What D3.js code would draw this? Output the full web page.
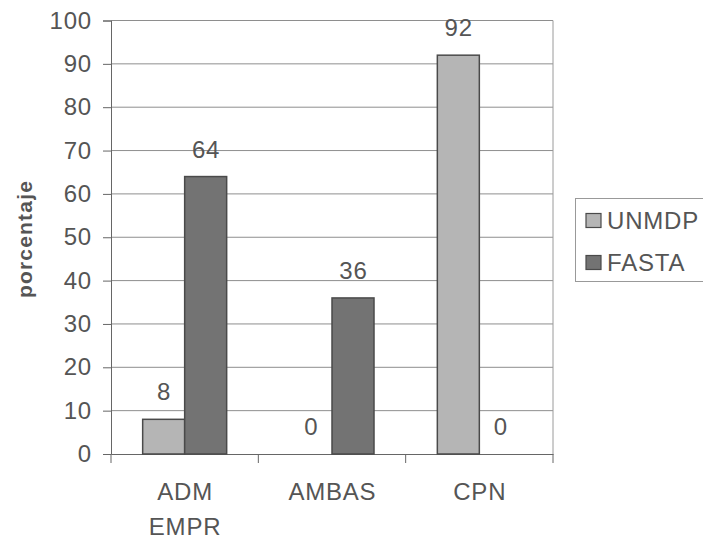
<!DOCTYPE html>
<html>
<head>
<meta charset="utf-8">
<script src="https://cdn.jsdelivr.net/npm/d3@7"></script>
<style>
html,body{margin:0;padding:0;background:#fff;}
svg{display:block;}
text{font-family:"Liberation Sans",Arial,sans-serif;}
</style>
</head>
<body>
<svg id="chart" width="703" height="542"></svg>
<script>
const categories = [["ADM","EMPR"],["AMBAS"],["CPN"]];
const categoryKeys = ["ADM EMPR","AMBAS","CPN"];
const seriesNames = ["UNMDP","FASTA"];
const unmdpValues = [8, 0, 92];
const fastaValues = [64, 36, 0];
const yTicks = [0,10,20,30,40,50,60,70,80,90,100];
const yTitle = "porcentaje";

(function(){
const seriesValues = [unmdpValues, fastaValues];
const colors = ["#b5b5b5", "#737373"];
const textColor = "#555";
const fs = 24, ls = 0.8;

const svg = d3.select("#chart");
const pLeft = 111, pRight = 553, pTop = 20.5, pBottom = 454;

const x = d3.scaleBand().domain(categoryKeys).range([pLeft, pRight]).padding(0);
const y = d3.scaleLinear().domain([0,100]).range([pBottom, pTop]);
const barW = 42;
const xs = d3.scaleBand().domain(seriesNames).range([-barW, barW]).padding(0);

// gridlines
svg.append("g").selectAll("line").data(yTicks.filter(d=>d>0)).join("line")
  .attr("x1", pLeft).attr("x2", pRight)
  .attr("y1", d=>y(d)).attr("y2", d=>y(d))
  .attr("stroke", "#8e8e8e").attr("stroke-width", 1);
svg.append("line").attr("x1", pRight).attr("x2", pRight).attr("y1", pTop).attr("y2", pBottom)
  .attr("stroke", "#9a9a9a").attr("stroke-width", 1);

// y axis
const yAxis = d3.axisLeft(y).tickValues(yTicks).tickSize(8).tickPadding(11);
const gy = svg.append("g").attr("transform", `translate(${pLeft},0)`).call(yAxis);
gy.select(".domain").attr("stroke", "#666");
gy.selectAll(".tick line").attr("stroke", "#666");
gy.selectAll(".tick text").attr("fill", textColor).attr("font-size", fs)
  .attr("letter-spacing", ls)
  .attr("font-family", "'Liberation Sans', Arial, sans-serif");

// x axis
const xAxis = d3.axisBottom(x).tickSize(0).tickFormat(()=>"");
const gx = svg.append("g").attr("transform", `translate(0,${pBottom})`).call(xAxis);
gx.select(".domain").attr("stroke", "#666");
const sepPos = [pLeft].concat(categoryKeys.map(c => x(c) + x.bandwidth()));
svg.append("g").selectAll("line").data(sepPos).join("line")
  .attr("x1", d=>d).attr("x2", d=>d).attr("y1", pBottom).attr("y2", pBottom+9)
  .attr("stroke", "#666");

// category labels
const catG = svg.append("g");
categories.forEach((lines, i) => {
  const cx = x(categoryKeys[i]) + x.bandwidth()/2 + ls/2;
  const t = catG.append("text")
    .attr("text-anchor", "middle").attr("fill", textColor).attr("font-size", fs)
    .attr("letter-spacing", ls);
  lines.forEach((ln, j) => {
    t.append("tspan").attr("x", cx).attr("y", 500 + j*35).text(ln);
  });
});

// bars
seriesNames.forEach((s, si) => {
  const vals = seriesValues[si];
  const g = svg.append("g");
  g.selectAll("rect").data(categoryKeys).join("rect")
    .attr("x", c => x(c) + x.bandwidth()/2 + xs(s))
    .attr("y", (c,i) => y(vals[i]))
    .attr("width", xs.bandwidth())
    .attr("height", (c,i) => y(0) - y(vals[i]))
    .attr("fill", colors[si])
    .attr("stroke", "#4a4a4a").attr("stroke-width", 1.5)
    .attr("display", (c,i) => vals[i] > 0 ? null : "none");
  g.selectAll("text").data(categoryKeys).join("text")
    .attr("x", c => x(c) + x.bandwidth()/2 + xs(s) + xs.bandwidth()/2 + ls/2)
    .attr("y", (c,i) => y(vals[i]) - 19)
    .attr("text-anchor", "middle").attr("fill", textColor).attr("font-size", fs)
    .attr("letter-spacing", ls)
    .text((c,i) => vals[i]);
});

// y title
svg.append("text")
  .attr("transform", `translate(32,239) rotate(-90)`)
  .attr("text-anchor", "middle").attr("fill", textColor)
  .attr("font-size", 21).attr("font-weight", "bold").attr("letter-spacing", 1.2)
  .text(yTitle);

// legend
const lg = svg.append("g");
lg.append("rect").attr("x", 575.5).attr("y", 198.5).attr("width", 140).attr("height", 83)
  .attr("fill", "none").attr("stroke", "#999");
seriesNames.forEach((s, i) => {
  lg.append("rect").attr("x", 586).attr("y", 213.5 + i*42).attr("width", 15).attr("height", 14)
    .attr("fill", colors[i]).attr("stroke", "#4a4a4a").attr("stroke-width", 1.2);
  lg.append("text").attr("x", 607).attr("y", 228.5 + i*42)
    .attr("fill", textColor).attr("font-size", fs).attr("letter-spacing", ls).text(s);
});
})();
</script>
</body>
</html>
